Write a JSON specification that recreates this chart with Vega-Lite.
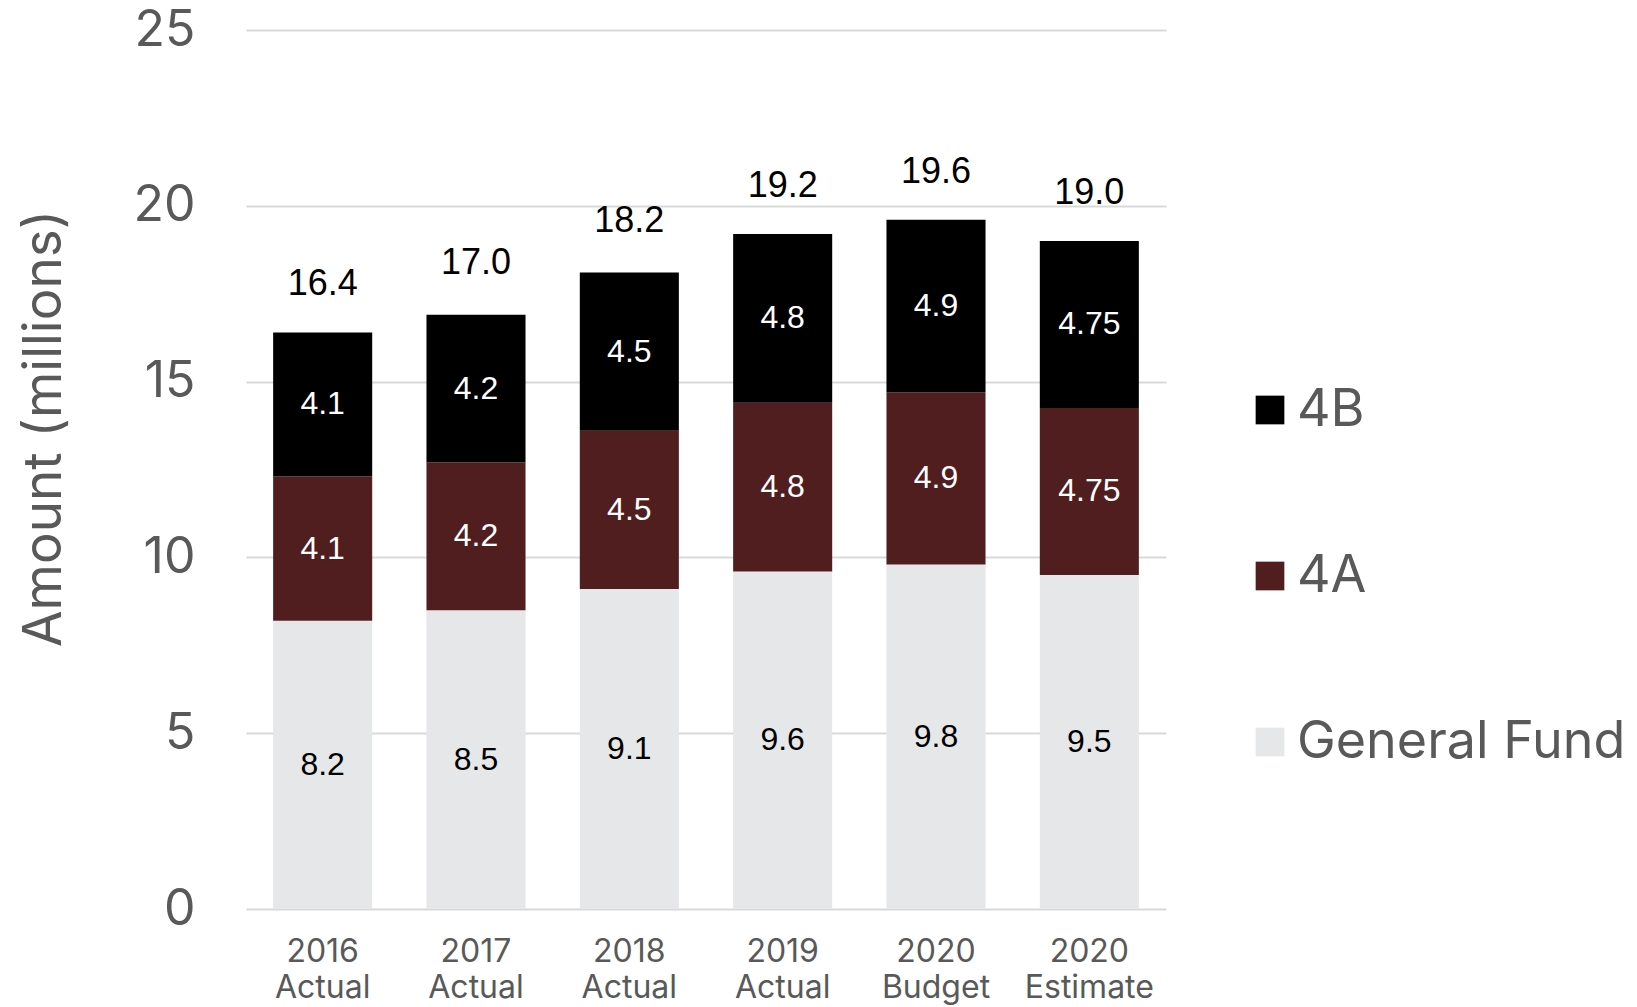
{
  "$schema": "https://vega.github.io/schema/vega-lite/v6.json",
  "width": 920,
  "height": 879,
  "autosize": {"type": "none"},
  "padding": {"left": 246, "top": 30, "right": 471, "bottom": 98},
  "background": "white",
  "config": {"view": {"stroke": null}, "font": "Inter"},
  "datasets": {
    "segments": [
      {"period": "2016 Actual", "series": "General Fund", "value": 8.2, "stack_order": 1},
      {"period": "2016 Actual", "series": "4A", "value": 4.1, "stack_order": 2},
      {"period": "2016 Actual", "series": "4B", "value": 4.1, "stack_order": 3},
      {"period": "2017 Actual", "series": "General Fund", "value": 8.5, "stack_order": 1},
      {"period": "2017 Actual", "series": "4A", "value": 4.2, "stack_order": 2},
      {"period": "2017 Actual", "series": "4B", "value": 4.2, "stack_order": 3},
      {"period": "2018 Actual", "series": "General Fund", "value": 9.1, "stack_order": 1},
      {"period": "2018 Actual", "series": "4A", "value": 4.5, "stack_order": 2},
      {"period": "2018 Actual", "series": "4B", "value": 4.5, "stack_order": 3},
      {"period": "2019 Actual", "series": "General Fund", "value": 9.6, "stack_order": 1},
      {"period": "2019 Actual", "series": "4A", "value": 4.8, "stack_order": 2},
      {"period": "2019 Actual", "series": "4B", "value": 4.8, "stack_order": 3},
      {"period": "2020 Budget", "series": "General Fund", "value": 9.8, "stack_order": 1},
      {"period": "2020 Budget", "series": "4A", "value": 4.9, "stack_order": 2},
      {"period": "2020 Budget", "series": "4B", "value": 4.9, "stack_order": 3},
      {"period": "2020 Estimate", "series": "General Fund", "value": 9.5, "stack_order": 1},
      {"period": "2020 Estimate", "series": "4A", "value": 4.75, "stack_order": 2},
      {"period": "2020 Estimate", "series": "4B", "value": 4.75, "stack_order": 3}
    ],
    "totals": [
      {"period": "2016 Actual", "total": 16.4},
      {"period": "2017 Actual", "total": 17.0},
      {"period": "2018 Actual", "total": 18.2},
      {"period": "2019 Actual", "total": 19.2},
      {"period": "2020 Budget", "total": 19.6},
      {"period": "2020 Estimate", "total": 19.0}
    ]
  },
  "layer": [
    {
      "data": {"name": "segments"},
      "mark": {"type": "bar"},
      "encoding": {
        "x": {
          "field": "period", "type": "nominal", "sort": null,
          "scale": {"paddingInner": 0.354, "paddingOuter": 0.177},
          "axis": {
            "title": null, "labelFont": "Inter", "labelFontSize": 32, "labelColor": "#595959",
            "labelExpr": "split(datum.label, ' ')", "labelLineHeight": 36, "labelPadding": 27,
            "labelAngle": 0, "ticks": false, "tickSize": 0, "domain": false
          }
        },
        "y": {
          "field": "value", "type": "quantitative", "stack": "zero",
          "scale": {"domain": [0, 25], "nice": false},
          "axis": {
            "title": "Amount (millions)", "titleFont": "Inter", "titleFontSize": 53,
            "titleFontWeight": "normal", "titleColor": "#595959", "titleAngle": -90,
            "titleX": -186, "titleY": 398, "titleAlign": "center", "titleBaseline": "alphabetic",
            "labelFont": "Inter", "labelFontSize": 50, "labelColor": "#595959", "labelPadding": 51,
            "ticks": false, "tickSize": 0, "domain": false, "grid": true,
            "gridColor": "#d9d9d9", "gridWidth": 2, "values": [0, 5, 10, 15, 20, 25]
          }
        },
        "color": {
          "field": "series", "type": "nominal",
          "scale": {"domain": ["4B", "4A", "General Fund"], "range": ["#000000", "#511e20", "#e6e7e8"]},
          "legend": {
            "title": null, "orient": "none", "legendX": 998, "legendY": 354,
            "symbolType": "square", "symbolSize": 824, "symbolStrokeWidth": 0, "symbolOpacity": 1,
            "labelFont": "Inter", "labelFontSize": 52, "labelColor": "#595959", "labelLimit": 0,
            "labelOffset": 1, "rowPadding": 114
          }
        },
        "order": {"field": "stack_order", "type": "quantitative"}
      }
    },
    {
      "data": {"name": "segments"},
      "mark": {"type": "text", "font": "Liberation Sans", "fontSize": 32, "baseline": "middle", "align": "center"},
      "encoding": {
        "x": {"field": "period", "type": "nominal", "sort": null},
        "y": {"field": "value", "type": "quantitative", "stack": "zero", "bandPosition": 0.5, "scale": {"domain": [0, 25], "nice": false}},
        "detail": {"field": "series"},
        "order": {"field": "stack_order", "type": "quantitative"},
        "text": {"field": "value", "type": "quantitative"},
        "color": {"condition": {"test": "datum.series === 'General Fund'", "value": "#000000"}, "value": "#ffffff"}
      }
    },
    {
      "data": {"name": "totals"},
      "mark": {"type": "text", "font": "Liberation Sans", "fontSize": 36, "baseline": "middle", "align": "center", "dy": -48, "color": "#000000"},
      "encoding": {
        "x": {"field": "period", "type": "nominal", "sort": null},
        "y": {"field": "total", "type": "quantitative", "scale": {"domain": [0, 25], "nice": false}},
        "text": {"field": "total", "type": "quantitative", "format": ".1f"}
      }
    }
  ]
}
